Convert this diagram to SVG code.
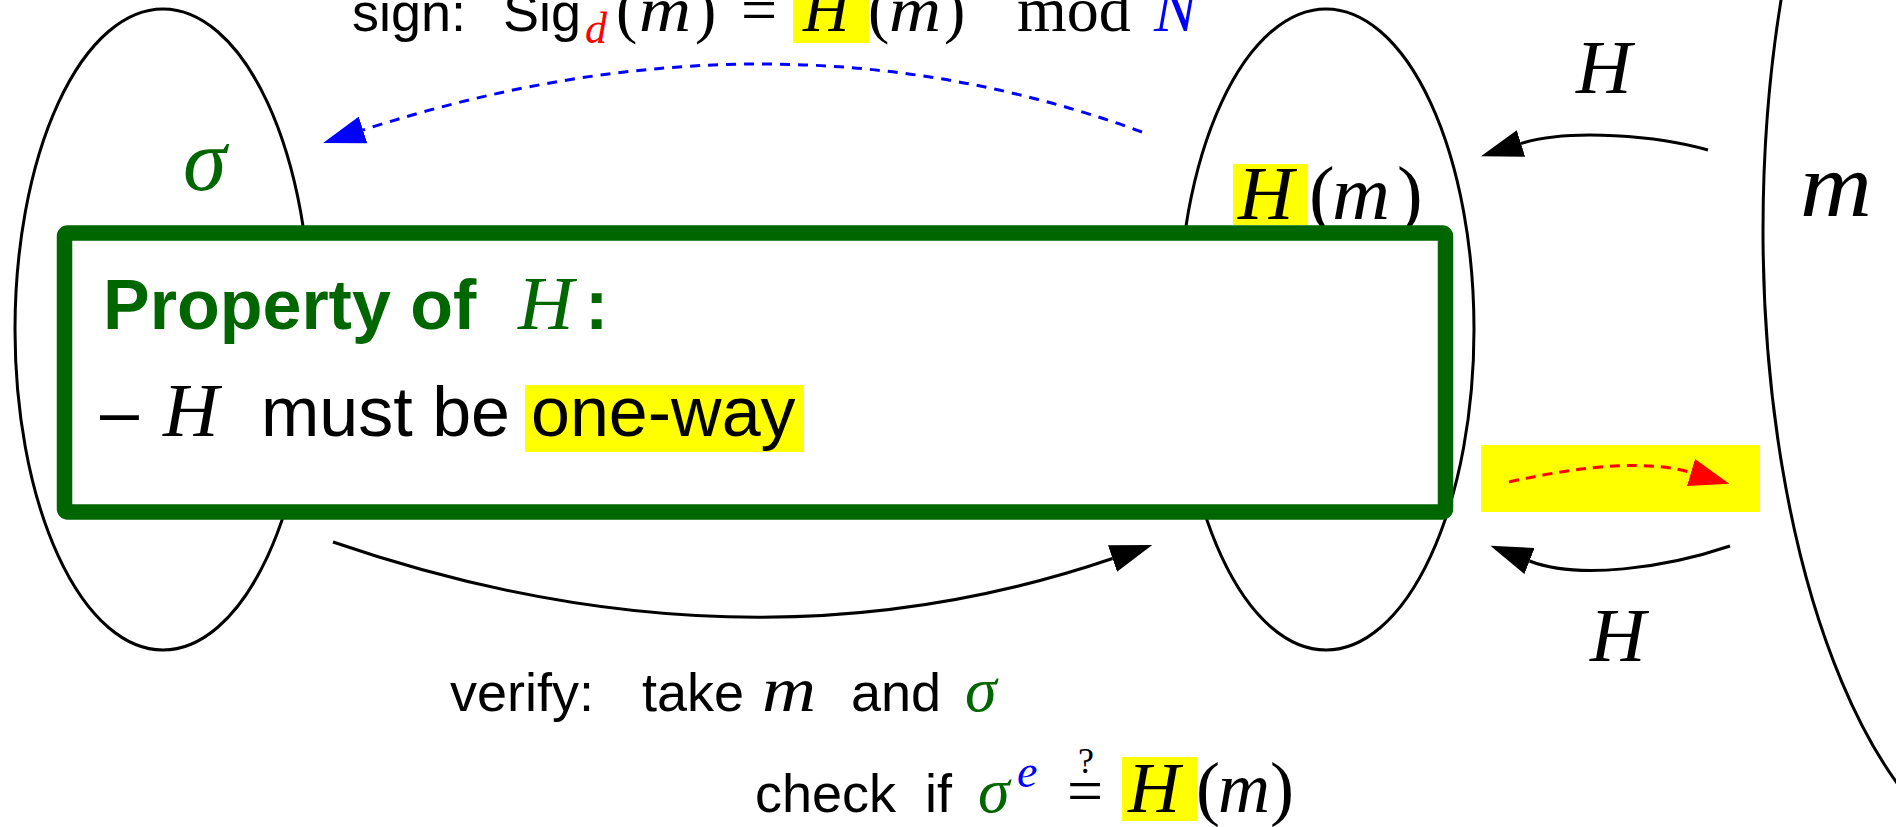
<svg xmlns="http://www.w3.org/2000/svg" width="1896" height="827" viewBox="0 0 1896 827">
<style>
.sans{font-family:"Liberation Sans",Arial,sans-serif;}
.math{font-family:"Liberation Serif","Times New Roman",serif;font-style:italic;}
.rm{font-family:"Liberation Serif","Times New Roman",serif;font-style:normal;}
.set{fill:none;stroke:#000;stroke-width:3;}
.conn{fill:none;stroke:#000;stroke-width:3;}
.hl{fill:#ffff00;}
</style>
<defs>
<marker id="ahBlack" markerUnits="userSpaceOnUse" markerWidth="42" markerHeight="28" viewBox="0 0 42 28" refX="0" refY="14" orient="auto"><path d="M0,0 L42,14 L0,28 Z" fill="#000"/></marker>
<marker id="ahBlue" markerUnits="userSpaceOnUse" markerWidth="42" markerHeight="28" viewBox="0 0 42 28" refX="0" refY="14" orient="auto"><path d="M0,0 L42,14 L0,28 Z" fill="#0000ff"/></marker>
<marker id="ahRed" markerUnits="userSpaceOnUse" markerWidth="40" markerHeight="28" viewBox="0 0 40 28" refX="0" refY="14" orient="auto"><path d="M0,0 L40,14 L0,28 Z" fill="#ff0000"/></marker>
</defs>
<rect width="1896" height="827" fill="#fff"/>

<g id="set-sigma">
<ellipse class="set" cx="163" cy="329.5" rx="148" ry="320.5"/>
<text class="math" x="183" y="190" font-size="88" fill="#006600">σ</text>
</g>

<g id="set-hash">
<ellipse class="set" cx="1326" cy="329.5" rx="148" ry="320.5"/>
<rect class="hl" x="1233" y="164" width="75" height="61"/>
<text font-size="77" fill="#000"><tspan class="math" x="1238" y="219">H</tspan><tspan class="rm" x="1309" y="219">(</tspan><tspan class="math" x="1332" y="219" textLength="58" lengthAdjust="spacingAndGlyphs">m</tspan><tspan class="rm" x="1397" y="219">)</tspan></text>
</g>

<g id="set-m">
<ellipse class="set" cx="2033" cy="230" rx="270" ry="640"/>
<text class="math" x="1800" y="216" font-size="92" textLength="72" lengthAdjust="spacingAndGlyphs">m</text>
</g>

<g id="connectors">
<path d="M1142,132 Q774,-3 363,130" fill="none" stroke="#0000ff" stroke-width="3" stroke-dasharray="10 8" marker-end="url(#ahBlue)"/>
<path class="conn" d="M1708,150 C1660,136 1570,128 1521,143.5" marker-end="url(#ahBlack)"/>
<path class="conn" d="M1730,546 C1665,568 1578,580 1529.5,561" marker-end="url(#ahBlack)"/>
<path class="conn" d="M333,542 Q745.5,683.8 1112.5,558.5" marker-end="url(#ahBlack)"/>
<rect class="hl" x="1481" y="445" width="279" height="67"/>
<path d="M1509,482 Q1631,454.75 1691,472.5" fill="none" stroke="#ff0000" stroke-width="3" stroke-dasharray="10 7" marker-end="url(#ahRed)"/>
</g>

<g id="label-sign">
<rect class="hl" x="793" y="0" width="76" height="43"/>
<text font-size="54" fill="#000">
<tspan class="sans" x="352" y="31">sign:</tspan>
<tspan class="sans" x="503" y="31">Sig</tspan>
<tspan class="math" x="585" y="43" font-size="44" fill="#ff0000">d</tspan>
<tspan class="rm" x="616" y="31" font-size="64">(</tspan>
<tspan class="math" x="639" y="31" font-size="64" textLength="52" lengthAdjust="spacingAndGlyphs">m</tspan>
<tspan class="rm" x="695" y="31" font-size="64">)</tspan>
<tspan class="rm" x="741" y="31" font-size="64">=</tspan>
<tspan class="math" x="803" y="31" font-size="64">H</tspan>
<tspan class="rm" x="868" y="31" font-size="64">(</tspan>
<tspan class="math" x="889" y="31" font-size="64" textLength="52" lengthAdjust="spacingAndGlyphs">m</tspan>
<tspan class="rm" x="944" y="31" font-size="64">)</tspan>
<tspan class="rm" x="1017" y="31" font-size="64">mod</tspan>
<tspan class="math" x="1154" y="31" font-size="64" fill="#0000ff">N</tspan>
</text>
</g>

<g id="label-H-top">
<text class="math" x="1576" y="93" font-size="77">H</text>
</g>
<g id="label-H-bottom">
<text class="math" x="1590" y="661" font-size="77">H</text>
</g>

<g id="label-verify">
<text font-size="54" fill="#000">
<tspan class="sans" x="450" y="711">verify:</tspan>
<tspan class="sans" x="642" y="711">take</tspan>
<tspan class="math" x="762" y="711" font-size="64" textLength="54" lengthAdjust="spacingAndGlyphs">m</tspan>
<tspan class="sans" x="851" y="711">and</tspan>
<tspan class="math" x="965" y="711" font-size="64" fill="#006600">σ</tspan>
</text>
<rect class="hl" x="1122" y="757" width="75" height="64"/>
<text font-size="54" fill="#000">
<tspan class="sans" x="755" y="812">check</tspan>
<tspan class="sans" x="925" y="812">if</tspan>
<tspan class="math" x="978" y="812" font-size="64" fill="#006600">σ</tspan>
<tspan class="math" x="1017" y="787" font-size="46" fill="#0000ff">e</tspan>
<tspan class="rm" x="1078" y="773" font-size="36">?</tspan>
<tspan class="rm" x="1067" y="812" font-size="64">=</tspan>
<tspan class="math" x="1128" y="812" font-size="72">H</tspan>
<tspan class="rm" x="1196" y="812" font-size="72">(</tspan>
<tspan class="math" x="1218" y="812" font-size="72" textLength="52" lengthAdjust="spacingAndGlyphs">m</tspan>
<tspan class="rm" x="1270" y="812" font-size="72">)</tspan>
</text>
</g>

<g id="property-box">
<rect x="64.5" y="233" width="1381" height="279" rx="3" fill="#fff" stroke="#006600" stroke-width="15.5" stroke-linejoin="round"/>
<text font-size="70" fill="#006600">
<tspan class="sans" x="103" y="329" font-weight="bold">Property of</tspan>
<tspan class="math" x="518" y="329" font-size="77">H</tspan>
<tspan class="sans" x="585" y="329" font-weight="bold">:</tspan>
</text>
<rect class="hl" x="525" y="385" width="279" height="67"/>
<text font-size="70" fill="#000">
<tspan class="sans" x="100" y="436">–</tspan>
<tspan class="math" x="163" y="436" font-size="77">H</tspan>
<tspan class="sans" x="261" y="436">must be</tspan>
<tspan class="sans" x="531" y="436">one-way</tspan>
</text>
</g>
</svg>
